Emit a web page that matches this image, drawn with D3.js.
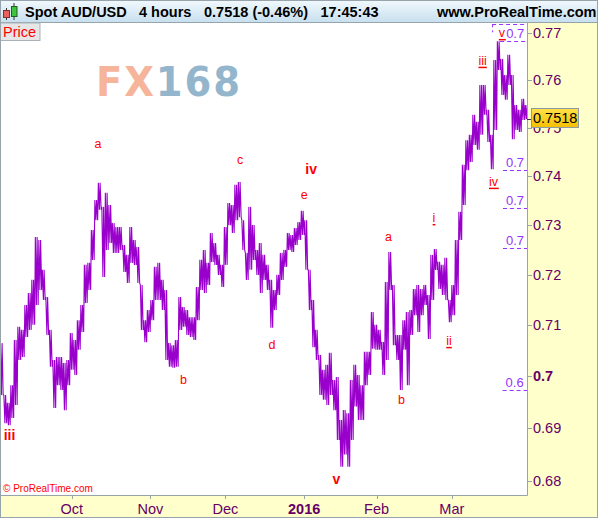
<!DOCTYPE html>
<html><head><meta charset="utf-8">
<script src="https://cdn.jsdelivr.net/npm/d3@7"></script>
<style>
html,body{margin:0;padding:0;background:#fff;}
svg{display:block;font-family:"Liberation Sans",Arial,sans-serif;}
</style></head>
<body>
<svg id="c" width="600" height="519"></svg>
<script>
// ---------------- data ----------------
const title = "Spot AUD/USD";
const period = "4 hours";
const lastQuote = "0.7518 (-0.46%)";
const clock = "17:45:43";
const site = "www.ProRealTime.com";
const lastPrice = 0.7518;

// high / low of each period column
const highs = [0.7065,0.6964,0.6949,0.6983,0.7071,0.7097,0.7091,0.7140,0.7164,0.7190,
0.7276,0.7270,0.7210,0.7156,0.7091,0.7032,0.7038,0.7038,0.7026,0.7032,
0.7085,0.7071,0.7110,0.7140,0.7220,0.7224,0.7290,0.7351,0.7386,0.7337,
0.7366,0.7341,0.7304,0.7296,0.7296,0.7260,0.7240,0.7296,0.7270,0.7256,
0.7180,0.7110,0.7130,0.7150,0.7216,0.7224,0.7190,0.7170,0.7065,0.7061,
0.7071,0.7156,0.7136,0.7130,0.7116,0.7116,0.7176,0.7230,0.7250,0.7224,
0.7284,0.7264,0.7240,0.7220,0.7296,0.7345,0.7341,0.7382,0.7388,0.7310,
0.7244,0.7337,0.7300,0.7250,0.7264,0.7240,0.7220,0.7190,0.7170,0.7200,
0.7244,0.7250,0.7284,0.7280,0.7294,0.7306,0.7329,0.7310,0.7210,0.7150,
0.7091,0.7042,0.7013,0.7023,0.7046,0.6993,0.6999,0.6916,0.6935,0.6929,
0.6993,0.7023,0.7003,0.6983,0.7048,0.7048,0.7126,0.7101,0.7091,0.7067,
0.7186,0.7246,0.7180,0.7081,0.7081,0.7110,0.7126,0.7130,0.7172,0.7180,
0.7172,0.7180,0.7160,0.7240,0.7252,0.7226,0.7220,0.7234,0.7150,0.7180,
0.7270,0.7327,0.7423,0.7474,0.7485,0.7527,0.7512,0.7589,0.7589,0.7537,
0.7485,0.7642,0.7682,0.7644,0.7610,0.7653,0.7610,0.7547,0.7537,0.7560,
0.7547];
const lows = [0.6964,0.6910,0.6906,0.6920,0.6945,0.7032,0.7038,0.7077,0.7091,0.7101,
0.7140,0.7170,0.7150,0.7081,0.7019,0.6939,0.6983,0.6974,0.6935,0.6983,
0.7013,0.7003,0.7052,0.7087,0.7144,0.7170,0.7230,0.7310,0.7331,0.7196,
0.7250,0.7264,0.7244,0.7244,0.7250,0.7206,0.7184,0.7224,0.7220,0.7184,
0.7091,0.7067,0.7087,0.7110,0.7150,0.7150,0.7130,0.7032,0.7019,0.7017,
0.7019,0.7091,0.7097,0.7081,0.7077,0.7071,0.7110,0.7170,0.7164,0.7180,
0.7226,0.7220,0.7200,0.7176,0.7220,0.7300,0.7284,0.7310,0.7316,0.7250,
0.7190,0.7210,0.7230,0.7200,0.7164,0.7190,0.7170,0.7095,0.7130,0.7160,
0.7190,0.7216,0.7250,0.7246,0.7260,0.7270,0.7280,0.7210,0.7130,0.7057,
0.7032,0.6964,0.6955,0.6945,0.6964,0.6935,0.6878,0.6827,0.6850,0.6827,
0.6878,0.6942,0.6916,0.6916,0.6983,0.7003,0.7054,0.7052,0.7052,0.7003,
0.7032,0.7170,0.7061,0.7032,0.6974,0.7052,0.6983,0.7081,0.7120,0.7087,
0.7120,0.7140,0.7073,0.7150,0.7210,0.7172,0.7160,0.7150,0.7106,0.7120,
0.7160,0.7270,0.7341,0.7412,0.7429,0.7464,0.7454,0.7485,0.7527,0.7470,
0.7414,0.7495,0.7621,0.7568,0.7558,0.7589,0.7476,0.7495,0.7491,0.7516,
0.7518];

const yTicks = [0.68,0.69,0.70,0.71,0.72,0.73,0.74,0.75,0.76,0.77];
const monthLabels = ["Oct","Nov","Dec","2016","Feb","Mar"];
const monthIdx = [20.5,42.95,64.4,86.9,107.6,129.1];

const waveText  = ["iii","a","b","c","d","e","iv","v","a","b","i","ii","iii","iv","v"];
const waveIdx   = [2.71,28.0,52.4,68.6,77.7,86.9,88.9,96.1,111.0,114.7,124.0,128.3,137.9,141.0,143.4];
const wavePrice = [0.6887,0.7466,0.6993,0.7433,0.7061,0.7362,0.7414,0.6803,0.7275,0.6954,0.7314,0.7069,0.7640,0.7388,0.7699];
const waveDegree= ["major","minor","minor","minor","minor","minor","major","major","minor","minor","sub","sub","sub","sub","sub"];

// retracement levels; only the start of each label is visible in the chart
const fibPrice = [0.7718,0.7683,0.7412,0.7335,0.7254,0.6974];
const fibText  = ["","0.7","0.7","0.7","0.7","0.6"];
const fibStart = [140.6,142.9,143.7,143.7,143.7,143.6];

// ---------------- layout ----------------
const W=600,H=519;
const plot={l:0,t:22,r:527,b:495};
const svg=d3.select("#c");
const AX="#660066", GRID="#98a4ac", LINE="#9900cc", RED="#ff0000", FIB="#9933ff";

const x=d3.scaleLinear().domain([0,150.57]).range([plot.l,plot.r]);
const y=d3.scaleLog().domain([0.67737,0.77229]).range([plot.b,plot.t]);

const defs=svg.append("defs");
const g1=defs.append("linearGradient").attr("id","hdr").attr("x1",0).attr("y1",0).attr("x2",0).attr("y2",1);
g1.append("stop").attr("offset","0%").attr("stop-color","#f2f9fd");
g1.append("stop").attr("offset","100%").attr("stop-color","#c8e0ef");
const g2=defs.append("linearGradient").attr("id","tag").attr("x1",0).attr("y1",0).attr("x2",0).attr("y2",1);
g2.append("stop").attr("offset","0%").attr("stop-color","#ffe14a");
g2.append("stop").attr("offset","100%").attr("stop-color","#f5c000");
defs.append("clipPath").attr("id","pc").append("rect")
  .attr("x",plot.l).attr("y",plot.t).attr("width",plot.r-plot.l).attr("height",plot.b-plot.t);

// backgrounds
svg.append("rect").attr("x",0).attr("y",0).attr("width",W).attr("height",H).attr("fill","#fff");
svg.append("rect").attr("x",plot.r).attr("y",plot.t).attr("width",598-plot.r).attr("height",518-plot.t).attr("fill","#ffffcc");
svg.append("rect").attr("x",0).attr("y",plot.b).attr("width",598).attr("height",518-plot.b).attr("fill","#ffffcc");

// header
svg.append("rect").attr("x",0).attr("y",0).attr("width",598).attr("height",22).attr("fill","url(#hdr)");
svg.append("line").attr("x1",0).attr("x2",598).attr("y1",22.5).attr("y2",22.5).attr("stroke",GRID);
// candle icon
svg.append("line").attr("x1",6.5).attr("x2",6.5).attr("y1",8).attr("y2",20).attr("stroke","#333");
svg.append("rect").attr("x",3.5).attr("y",10.5).attr("width",6).attr("height",7).attr("fill","#e86060").attr("stroke","#803030");
svg.append("line").attr("x1",14).attr("x2",14).attr("y1",3).attr("y2",20).attr("stroke","#333");
svg.append("rect").attr("x",11.5).attr("y",6.5).attr("width",5.5).attr("height",10).attr("fill","#3ec43e").attr("stroke","#206020");
const ht=svg.append("g").attr("font-weight","bold").attr("font-size","14.5px").attr("fill","#000");
ht.append("text").attr("x",25).attr("y",17).text(title);
ht.append("text").attr("x",139).attr("y",17).text(period);
ht.append("text").attr("x",204).attr("y",17).text(lastQuote);
ht.append("text").attr("x",320.5).attr("y",17).text(clock);
ht.append("text").attr("x",596.5).attr("y",17).attr("text-anchor","end").text(site);

// watermark
const wm=svg.append("text").attr("x",96).attr("y",96)
  .attr("font-size","40px").attr("font-weight","bold")
  .attr("font-family","'DejaVu Sans',sans-serif").attr("letter-spacing","2px")
  .attr("textLength",146).attr("lengthAdjust","spacingAndGlyphs");
wm.append("tspan").attr("fill","#f6b49a").text("FX");
wm.append("tspan").attr("fill","#94b6cc").text("168");

// price line (zigzag through the high and low of each column)
const pts=[];
highs.forEach((h,i)=>{
  pts.push([i+0.1,h]);pts.push([i+0.4,lows[i]]);
  pts.push([i+0.6,h]);pts.push([i+0.9,lows[i]]);
});
svg.append("path").attr("clip-path","url(#pc)")
  .attr("d",d3.line().x(d=>x(d[0])).y(d=>y(d[1]))(pts))
  .attr("fill","none").attr("stroke",LINE).attr("stroke-width",1.1).attr("stroke-linejoin","bevel");

// fib levels
const fg=svg.append("g").attr("clip-path","url(#pc)");
fibPrice.forEach((p,i)=>{
  fg.append("line").attr("x1",x(fibStart[i])).attr("x2",plot.r).attr("y1",Math.round(y(p))+0.5).attr("y2",Math.round(y(p))+0.5)
    .attr("stroke",FIB).attr("stroke-width",1).attr("stroke-dasharray","4,3");
  if(fibText[i]) fg.append("text").attr("x",x(fibStart[i])+ (i===1?6:3)).attr("y",y(p)-3).attr("font-size","13px").attr("fill",FIB).text(fibText[i]);
});
fg.append("line").attr("x1",x(fibStart[0])+0.5).attr("x2",x(fibStart[0])+0.5).attr("y1",y(fibPrice[0])).attr("y2",y(fibPrice[0])+8)
  .attr("stroke",FIB).attr("stroke-dasharray","3,3");

// wave labels
const wg=svg.append("g").attr("clip-path","url(#pc)");
waveText.forEach((t,i)=>{
  const deg=waveDegree[i];
  const tx=wg.append("text").attr("x",x(waveIdx[i])).attr("y",y(wavePrice[i]))
    .attr("text-anchor","middle").attr("dominant-baseline","central")
    .attr("fill",RED).attr("font-size",deg==="major"?"14px":"12.5px")
    .attr("font-weight",deg==="major"?"bold":"normal").text(t);
  if(deg==="sub"){
    const bb=tx.node().getBBox();
    wg.append("line").attr("x1",bb.x).attr("x2",bb.x+bb.width).attr("y1",y(wavePrice[i])+6.5).attr("y2",y(wavePrice[i])+6.5)
      .attr("stroke",RED).attr("stroke-width",1.5);
  }
});

// plot borders
svg.append("line").attr("x1",plot.r+0.5).attr("x2",plot.r+0.5).attr("y1",plot.t).attr("y2",plot.b+0.5).attr("stroke",GRID);
svg.append("line").attr("x1",0).attr("x2",plot.r+0.5).attr("y1",plot.b+0.5).attr("y2",plot.b+0.5).attr("stroke",GRID);

// y axis
const ya=svg.append("g");
yTicks.forEach(v=>{
  const yy=Math.round(y(v))+0.5;
  ya.append("line").attr("x1",plot.r).attr("x2",plot.r+5).attr("y1",yy).attr("y2",yy).attr("stroke",GRID);
  ya.append("text").attr("x",plot.r+6).attr("y",y(v)).attr("dominant-baseline","central")
    .attr("font-size","14.5px").attr("fill",AX).attr("font-weight",v===0.70?"bold":"normal")
    .text(v===0.70?"0.7":d3.format(".2f")(v));
});
// x axis
monthLabels.forEach((m,i)=>{
  const xx=Math.round(x(monthIdx[i]))+0.5;
  svg.append("line").attr("x1",xx).attr("x2",xx).attr("y1",plot.b).attr("y2",plot.b+4).attr("stroke",GRID);
  svg.append("text").attr("x",x(monthIdx[i])).attr("y",509).attr("text-anchor","middle").attr("dominant-baseline","central")
    .attr("font-size","14.5px").attr("fill",AX).attr("font-weight",m==="2016"?"bold":"normal").text(m);
});

// last price tag
const ly=y(lastPrice);
svg.append("line").attr("x1",plot.r).attr("x2",plot.r+5).attr("y1",Math.round(ly)+0.5).attr("y2",Math.round(ly)+0.5).attr("stroke","#333");
svg.append("rect").attr("x",531.5).attr("y",ly-10.5).attr("width",47).attr("height",19).attr("fill","url(#tag)").attr("stroke","#8d9aa3");
svg.append("text").attr("x",533).attr("y",ly-1).attr("dominant-baseline","central").attr("font-size","14.5px").attr("fill","#000")
  .text(d3.format(".4f")(lastPrice));

// "Price" tab
svg.append("rect").attr("x",0.5).attr("y",23).attr("width",39.5).attr("height",17.5).attr("fill","#e6e6e6").attr("stroke","#a8b2b8");
svg.append("text").attr("x",3).attr("y",32).attr("dominant-baseline","central").attr("font-size","14.5px").attr("fill",RED).text("Price");

// copyright
svg.append("text").attr("x",3).attr("y",492).attr("font-size","10px").attr("fill",RED).text("© ProRealTime.com");

// outer frame
svg.append("rect").attr("x",0.5).attr("y",0.5).attr("width",597).attr("height",517).attr("fill","none").attr("stroke",GRID);
</script>
</body></html>
